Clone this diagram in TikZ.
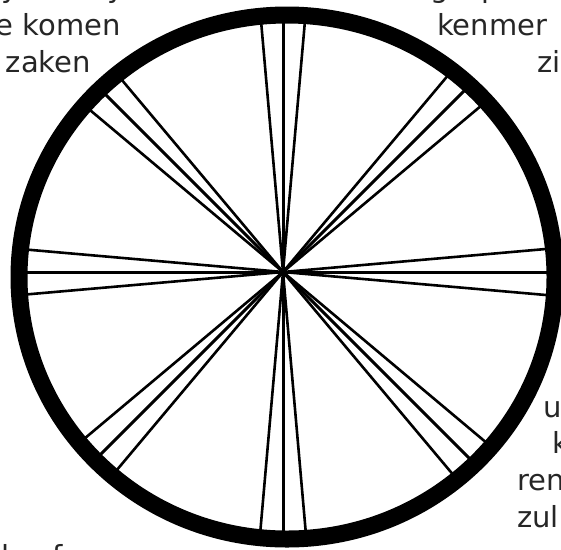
\documentclass[tikz,border=0pt]{standalone}
\usepackage{fontspec}
\setmainfont{DejaVu Sans}

\begin{document}
\begin{tikzpicture}[x=1pt, y=-1pt,
    rim/.style={draw, line width=17pt},
    spoke/.style={line width=3pt},
    side/.style={line width=2.6pt},
    txt/.style={font=\fontsize{29}{34}\selectfont, inner sep=0pt, text=black!85}
]
\useasboundingbox (0,0) rectangle (561,549);
\coordinate (hub) at (283,272);
\coordinate (mid) at (287,277);

% spokes, three lines per direction
\begin{scope}
\clip (mid) ellipse [x radius=268pt, y radius=262pt];
\foreach \a in {0,45,...,315} {
  \draw[spoke] (hub) -- ++(\a:320);
  \draw[side] (hub) -- ++(\a-5:320);
  \draw[side] (hub) -- ++(\a+5:320);
}
\end{scope}
\draw[rim] (mid) ellipse [x radius=268pt, y radius=262pt];

% text around the wheel
\node[txt, anchor=base west] (top1) at (1,-3) {y};
\node[txt, anchor=base west] (top2) at (107,-3) {y};
\node[txt, anchor=base west] (top3) at (430,-3) {g};
\node[txt, anchor=base west] (top4) at (481,-3) {p};
\node[txt, anchor=base east] (komen) at (121,35) {e komen};
\node[txt, anchor=base east] (zaken) at (91,72) {zaken};
\node[txt, anchor=base west] (kenmer) at (437,35) {kenmer};
\node[txt, anchor=base west] (zi) at (537,72) {zi};
\node[txt, anchor=base west] (u) at (543,417) {u};
\node[txt, anchor=base west] (k) at (552,453) {k};
\node[txt, anchor=base west] (ren) at (517,490) {ren};
\node[txt, anchor=base west] (zul) at (517,527) {zul};
\node[txt, anchor=base west] (bot1) at (1,566) {l};
\node[txt, anchor=base west] (bot2) at (52,566) {f};
\end{tikzpicture}
\end{document}
